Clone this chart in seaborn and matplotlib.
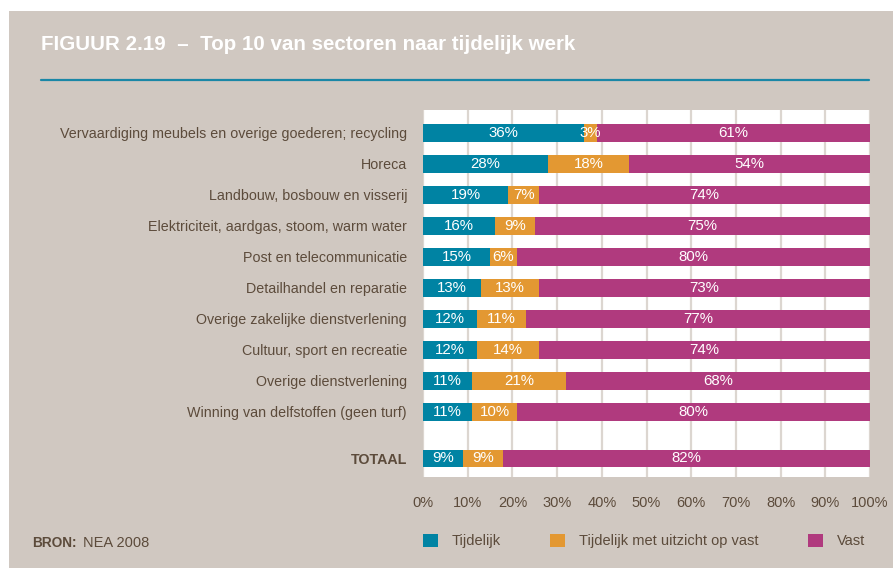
import matplotlib
matplotlib.use("Agg")
import matplotlib.pyplot as plt
import seaborn as sns
import numpy as np
from matplotlib.patches import Rectangle
from matplotlib.lines import Line2D

# ---- data ----
categories = [
    "Vervaardiging meubels en overige goederen; recycling",
    "Horeca",
    "Landbouw, bosbouw en visserij",
    "Elektriciteit, aardgas, stoom, warm water",
    "Post en telecommunicatie",
    "Detailhandel en reparatie",
    "Overige zakelijke dienstverlening",
    "Cultuur, sport en recreatie",
    "Overige dienstverlening",
    "Winning van delfstoffen (geen turf)",
    "TOTAAL",
]
row_pos = [0, 1, 2, 3, 4, 5, 6, 7, 8, 9, 10.5]
tijdelijk = [36, 28, 19, 16, 15, 13, 12, 12, 11, 11, 9]
tijdelijk_uitzicht = [3, 18, 7, 9, 6, 13, 11, 14, 21, 10, 9]
vast = [61, 54, 74, 75, 80, 73, 77, 74, 68, 80, 82]
x_ticks = [0, 10, 20, 30, 40, 50, 60, 70, 80, 90, 100]
x_ticklabels = [f"{v}%" for v in x_ticks]
series_names = ["Tijdelijk", "Tijdelijk met uitzicht op vast", "Vast"]

# ---- style ----
BG = "#d0c8c1"
TEAL = "#0083a3"
ORANGE = "#e39832"
MAGENTA = "#b03a7e"
TXT = "#5c4b3b"
GRID = "#dcd6d0"
FONT = ["Liberation Sans", "DejaVu Sans"]

sns.set_style("white")
plt.rcParams["font.family"] = FONT

fig = plt.figure(figsize=(8.93, 5.68), dpi=100, facecolor="white")
fig.patches.append(Rectangle((9 / 893, 0), 1, 1 - 11 / 568, transform=fig.transFigure,
                             facecolor=BG, edgecolor="none", zorder=-10))

ax = fig.add_axes([423 / 893, 1 - 477 / 568, 447 / 893, 367 / 568])
ax.set_facecolor("white")

t = np.array(tijdelijk, dtype=float)
o = np.array(tijdelijk_uitzicht, dtype=float)
v = np.array(vast, dtype=float)
cum_o = t + o
total = np.full_like(t, 100.0)  # shares add up to the full 100 %

common = dict(orient="y", native_scale=True, width=0.57, saturation=1, linewidth=0, ax=ax)
sns.barplot(x=total, y=row_pos, color=MAGENTA, label=series_names[2], **common)
sns.barplot(x=cum_o, y=row_pos, color=ORANGE, label=series_names[1], **common)
sns.barplot(x=t, y=row_pos, color=TEAL, label=series_names[0], **common)

# segment labels
for i, y in enumerate(row_pos):
    starts = [0, t[i], cum_o[i]]
    ends = [t[i], cum_o[i], 100.0]
    for val, s, e in zip([tijdelijk[i], tijdelijk_uitzicht[i], vast[i]], starts, ends):
        ax.text((s + e) / 2, y, f"{val}%", ha="center", va="center",
                color="white", fontsize=10.8)

ax.set_xlim(0, 100)
ax.set_ylim(11.1, -0.74)
ax.set_xticks(x_ticks)
ax.set_xticklabels(x_ticklabels)
ax.set_yticks(row_pos)
ax.set_yticklabels(categories)
for lbl in ax.get_yticklabels():
    if lbl.get_text() == "TOTAAL":
        lbl.set_fontweight("bold")
ax.tick_params(axis="y", length=0, colors=TXT, labelsize=10.3, pad=11.5)
ax.tick_params(axis="x", length=0, colors=TXT, labelsize=10.5, pad=13.5)
ax.xaxis.grid(True, color=GRID, linewidth=1.6)
ax.yaxis.grid(False)
ax.set_axisbelow(True)
for sp in ax.spines.values():
    sp.set_visible(False)
ax.set_xlabel("")
ax.set_ylabel("")

# legend
handles, labels = ax.get_legend_handles_labels()
order = [labels.index(n) for n in series_names]
if ax.legend_:
    ax.legend_.remove()
fig.legend([handles[k] for k in order], [labels[k] for k in order], ncol=3,
           loc="center left", bbox_to_anchor=(423 / 893, 1 - 541 / 568),
           frameon=False, borderpad=0, borderaxespad=0, fontsize=10.5,
           handlelength=1.03, handleheight=1.03, handletextpad=0.96,
           columnspacing=3.36, labelcolor=TXT)

# title and rule
fig.text(41 / 893, 1 - 45 / 568, "FIGUUR 2.19  \u2013  Top 10 van sectoren naar tijdelijk werk",
         color="white", fontsize=14.8, fontweight="bold", va="center", ha="left")
fig.add_artist(Line2D([41 / 893, 869 / 893], [1 - 80 / 568, 1 - 80 / 568],
                      transform=fig.transFigure, color="#1a87a6", linewidth=1.6))

# source
fig.text(32 / 893, 1 - 543 / 568, "BRON:", color=TXT, fontsize=9.8, fontweight="bold",
         va="center", ha="left")
fig.text(83 / 893, 1 - 543 / 568, "NEA 2008", color=TXT, fontsize=10.5,
         va="center", ha="left")

fig.savefig("out.png", dpi=100, facecolor=fig.get_facecolor())
